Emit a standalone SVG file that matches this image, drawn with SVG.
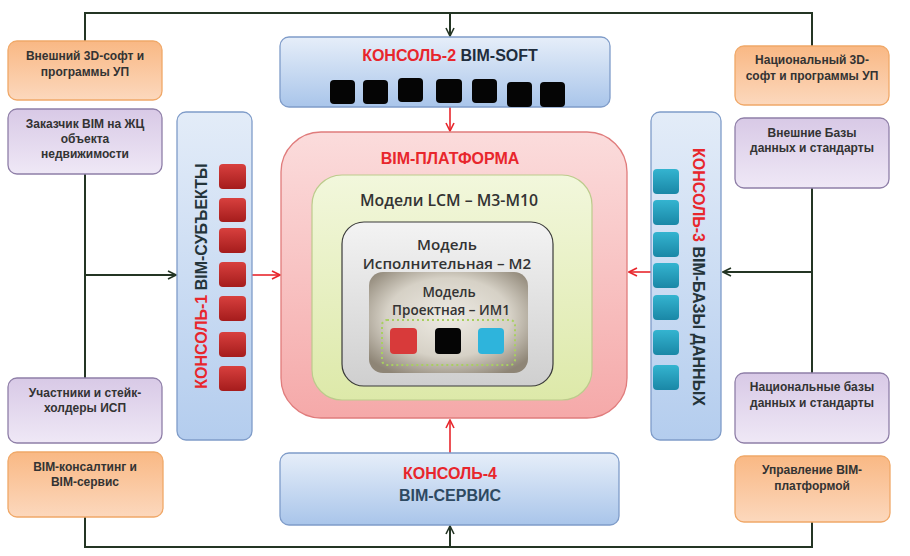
<svg xmlns="http://www.w3.org/2000/svg" width="910" height="556" viewBox="0 0 910 556">
<style>
.t{font-family:"Liberation Sans",Arial,sans-serif;font-weight:bold;font-size:12px;fill:#333;text-anchor:middle}
.ct{font-family:"Liberation Sans",Arial,sans-serif;font-weight:bold;font-size:16px;text-anchor:middle}
.mt{font-family:"Open Sans","Liberation Sans",sans-serif;font-weight:600;fill:#333;text-anchor:middle}
.red{fill:#e8262c}
.dk{fill:#1f2d3d}
.or{fill:url(#gOr);stroke:#f0a868;stroke-width:1.3}
.pu{fill:url(#gPu);stroke:#8f7fa8;stroke-width:1.3}
.co{fill:url(#gCo);stroke:#7f9cc9;stroke-width:1.3}
.rq{fill:url(#gRq)}
.tq{fill:url(#gTq)}
.bk{fill:#050505}
.ln{fill:none;stroke:#243524;stroke-width:2}
.rl{fill:none;stroke:#e8262c;stroke-width:1.6}
</style>
<defs>
<linearGradient id="gOr" x1="0" y1="0" x2="0" y2="1"><stop offset="0" stop-color="#f9b884"/><stop offset="1" stop-color="#fcd8bd"/></linearGradient>
<linearGradient id="gPu" x1="0" y1="0" x2="0" y2="1"><stop offset="0" stop-color="#d8c9e6"/><stop offset="1" stop-color="#efe8f6"/></linearGradient>
<linearGradient id="gCo" x1="0" y1="0" x2="0" y2="1"><stop offset="0" stop-color="#e6eef9"/><stop offset="1" stop-color="#a9c5ea"/></linearGradient>
<linearGradient id="gCoV" x1="0" y1="0" x2="0" y2="1"><stop offset="0" stop-color="#e3ecf8"/><stop offset="1" stop-color="#b4cdee"/></linearGradient>
<linearGradient id="gPl" x1="0" y1="0" x2="0" y2="1"><stop offset="0" stop-color="#fbdcdc"/><stop offset="1" stop-color="#f5a9a9"/></linearGradient>
<linearGradient id="gGr" x1="0" y1="0" x2="0" y2="1"><stop offset="0" stop-color="#f2f7dc"/><stop offset="1" stop-color="#dde9a9"/></linearGradient>
<linearGradient id="gGy" x1="0" y1="0" x2="0" y2="1"><stop offset="0" stop-color="#f3f3f3"/><stop offset="1" stop-color="#cfcfcf"/></linearGradient>
<radialGradient id="gTp" cx="0.5" cy="0.45" r="0.65"><stop offset="0" stop-color="#eeebe4"/><stop offset="0.6" stop-color="#d6d1c6"/><stop offset="1" stop-color="#8e8576"/></radialGradient>
<linearGradient id="gRq" x1="0" y1="0" x2="0" y2="1"><stop offset="0" stop-color="#d8403e"/><stop offset="1" stop-color="#a51c1c"/></linearGradient>
<linearGradient id="gTq" x1="0" y1="0" x2="0" y2="1"><stop offset="0" stop-color="#34b4d0"/><stop offset="1" stop-color="#1a87a6"/></linearGradient>
<marker id="aK" viewBox="0 0 10 10" refX="9" refY="5" markerWidth="10" markerHeight="10" markerUnits="userSpaceOnUse" orient="auto"><path d="M1,1 L9,5 L1,9" fill="none" stroke="#243524" stroke-width="1.6"/></marker>
<marker id="aR" viewBox="0 0 10 10" refX="9" refY="5" markerWidth="10" markerHeight="10" markerUnits="userSpaceOnUse" orient="auto"><path d="M1,1 L9,5 L1,9" fill="none" stroke="#e8262c" stroke-width="1.6"/></marker>
</defs>

<g id="connectors">
<path class="ln" d="M85,41 V13 H812 V46"/>
<path class="ln" d="M450,13 V36" marker-end="url(#aK)"/>
<path class="ln" d="M85,517 V547 H812 V522"/>
<path class="ln" d="M450,547 V526" marker-end="url(#aK)"/>
<path class="ln" d="M85,174 V378"/>
<path class="ln" d="M85,275 H176" marker-end="url(#aK)"/>
<path class="ln" d="M812,188 V373"/>
<path class="ln" d="M812,272 H723" marker-end="url(#aK)"/>
<path class="rl" d="M450,107 V131" marker-end="url(#aR)"/>
<path class="rl" d="M450,453 V420" marker-end="url(#aR)"/>
<path class="rl" d="M252,275 H280" marker-end="url(#aR)"/>
<path class="rl" d="M651,272 H629" marker-end="url(#aR)"/>
</g>

<g id="ext-3d-soft"><rect class="or" x="8" y="41" width="154" height="59" rx="9"/>
<text class="t" x="85" y="60">Внешний 3D-софт и</text><text class="t" x="85" y="76">программы УП</text></g>
<g id="customer"><rect class="pu" x="8" y="109" width="154" height="65" rx="9"/>
<text class="t" x="85" y="128">Заказчик BIM на ЖЦ</text><text class="t" x="85" y="143">объекта</text><text class="t" x="85" y="158">недвижимости</text></g>
<g id="participants"><rect class="pu" x="8" y="378" width="154" height="65" rx="9"/>
<text class="t" x="85" y="397">Участники и стейк-</text><text class="t" x="85" y="412">холдеры ИСП</text></g>
<g id="consulting"><rect class="or" x="8" y="452" width="155" height="65" rx="9"/>
<text class="t" x="85" y="471">BIM-консалтинг и</text><text class="t" x="85" y="486">BIM-сервис</text></g>

<g id="nat-3d-soft"><rect class="or" x="735" y="46" width="154" height="59" rx="9"/>
<text class="t" x="812" y="64">Национальный 3D-</text><text class="t" x="812" y="80">софт и программы УП</text></g>
<g id="ext-db"><rect class="pu" x="735" y="118" width="154" height="70" rx="9"/>
<text class="t" x="812" y="137">Внешние Базы</text><text class="t" x="812" y="152">данных и стандарты</text></g>
<g id="nat-db"><rect class="pu" x="735" y="373" width="154" height="70" rx="9"/>
<text class="t" x="812" y="391">Национальные базы</text><text class="t" x="812" y="407">данных и стандарты</text></g>
<g id="platform-mgmt"><rect class="or" x="735" y="456" width="155" height="66" rx="9"/>
<text class="t" x="812" y="474">Управление BIM-</text><text class="t" x="812" y="490">платформой</text></g>

<g id="console-2"><rect class="co" x="280" y="37" width="330" height="70" rx="9"/>
<text class="ct" x="450" y="61" font-size="17.5"><tspan class="red">КОНСОЛЬ-2</tspan> <tspan class="dk">BIM-SOFT</tspan></text>
<rect class="bk" x="330" y="80" width="25" height="24" rx="4"/>
<rect class="bk" x="363" y="80" width="25" height="24" rx="4"/>
<rect class="bk" x="398" y="78" width="25" height="24" rx="4"/>
<rect class="bk" x="436" y="79" width="26" height="24" rx="4"/>
<rect class="bk" x="472" y="79" width="25" height="24" rx="4"/>
<rect class="bk" x="507" y="82" width="25" height="25" rx="4"/>
<rect class="bk" x="540" y="82" width="25" height="25" rx="4"/>
</g>

<g id="console-1"><rect x="177" y="112" width="75" height="328" rx="9" fill="url(#gCoV)" stroke="#7f9cc9" stroke-width="1.3"/>
<text class="ct" transform="translate(207,276) rotate(-90)" font-size="15"><tspan class="red">КОНСОЛЬ-1</tspan> <tspan fill="#24343a">BIM-СУБЪЕКТЫ</tspan></text>
<rect class="rq" x="219" y="164" width="27" height="25" rx="4"/>
<rect class="rq" x="219" y="198" width="27" height="24" rx="4"/>
<rect class="rq" x="219" y="228" width="27" height="25" rx="4"/>
<rect class="rq" x="219" y="262" width="27" height="25" rx="4"/>
<rect class="rq" x="219" y="296" width="27" height="25" rx="4"/>
<rect class="rq" x="219" y="332" width="27" height="25" rx="4"/>
<rect class="rq" x="219" y="366" width="27" height="25" rx="4"/>
</g>

<g id="console-3"><rect x="651" y="112" width="70" height="328" rx="9" fill="url(#gCoV)" stroke="#7f9cc9" stroke-width="1.3"/>
<text class="ct" transform="translate(693,277) rotate(90)" font-size="15"><tspan class="red">КОНСОЛЬ-3</tspan> <tspan fill="#24343a">BIM-БАЗЫ ДАННЫХ</tspan></text>
<rect class="tq" x="653" y="169" width="26" height="25" rx="4"/>
<rect class="tq" x="653" y="200" width="26" height="25" rx="4"/>
<rect class="tq" x="653" y="232" width="26" height="25" rx="4"/>
<rect class="tq" x="653" y="263" width="26" height="25" rx="4"/>
<rect class="tq" x="653" y="295" width="26" height="25" rx="4"/>
<rect class="tq" x="653" y="330" width="26" height="25" rx="4"/>
<rect class="tq" x="653" y="365" width="26" height="25" rx="4"/>
</g>

<g id="console-4"><rect class="co" x="280" y="453" width="339" height="72" rx="9"/>
<text class="ct" x="450" y="479" font-size="17.5"><tspan class="red">КОНСОЛЬ-4</tspan></text>
<text class="ct" x="450" y="501" font-size="17" fill="#2e4a62">BIM-СЕРВИС</text>
</g>

<g id="bim-platform"><rect x="281" y="132" width="346" height="286" rx="40" fill="url(#gPl)" stroke="#e07c7c" stroke-width="1.3"/>
<text class="ct" x="450" y="164" font-size="14" fill="#e8262c">BIM-ПЛАТФОРМА</text></g>

<g id="lcm-models"><rect x="312" y="175" width="280" height="225" rx="30" fill="url(#gGr)" stroke="#bccb8c" stroke-width="1.2"/>
<text class="mt" x="449" y="206" font-size="15.8">Модели LCM – М3-М10</text></g>

<g id="model-m2"><rect x="342" y="222" width="211" height="164" rx="22" fill="url(#gGy)" stroke="#3a3a3a" stroke-width="1.2"/>
<text class="mt" x="447" y="250" font-size="15.2">Модель</text>
<text class="mt" x="447" y="269" font-size="15.2">Исполнительная – М2</text></g>

<g id="model-im1"><rect x="369" y="272" width="159" height="101" rx="14" fill="url(#gTp)"/>
<text class="mt" x="449" y="297" font-size="13.5">Модель</text>
<text class="mt" x="451" y="315" font-size="13.5">Проектная – ИМ1</text>
<rect x="382" y="320" width="133" height="45" rx="5" fill="none" stroke="#a8d060" stroke-width="2" stroke-dasharray="2 3"/>
<rect x="390" y="328" width="27" height="26" rx="4" fill="#d83a3a"/>
<rect x="435" y="328" width="26" height="26" rx="4" fill="#050505"/>
<rect x="478" y="328" width="26" height="26" rx="4" fill="#2eb4dc"/>
</g>
</svg>
